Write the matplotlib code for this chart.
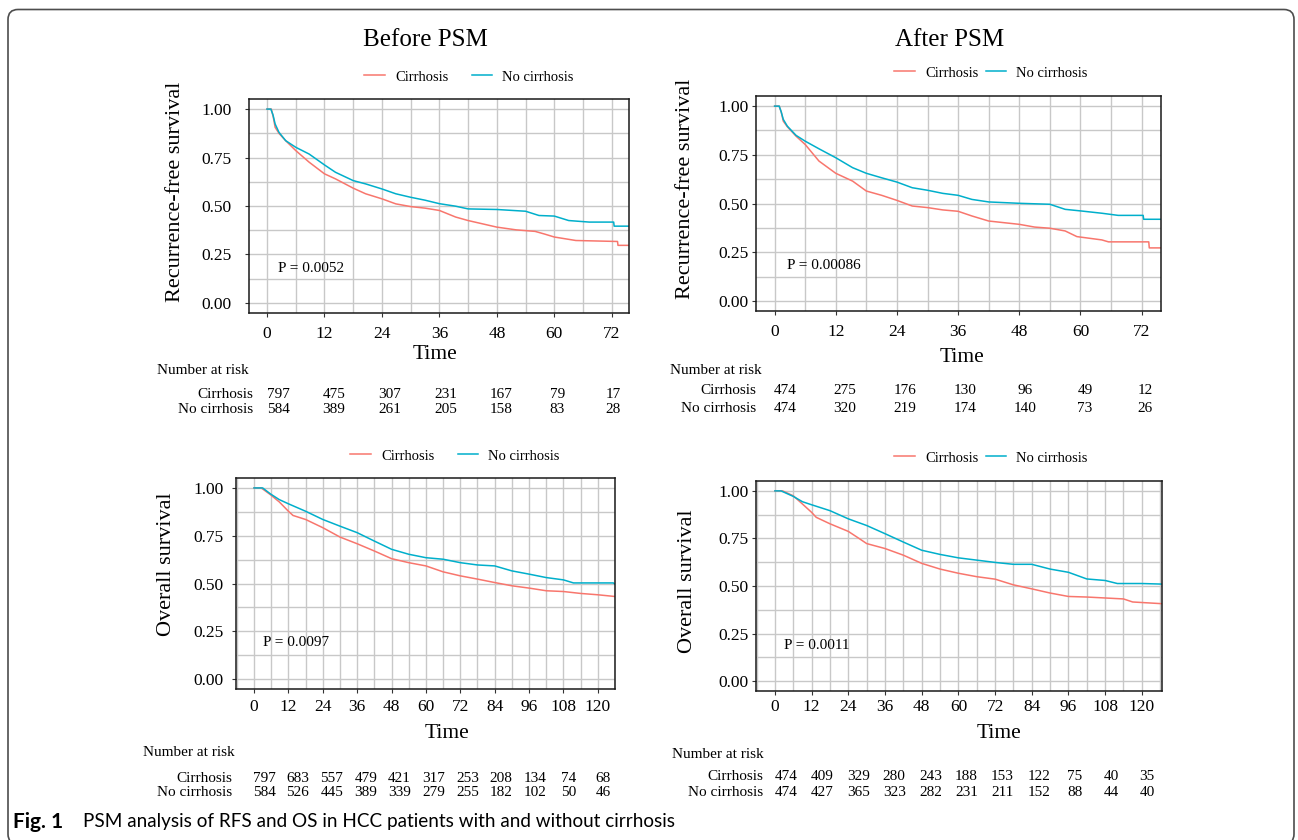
import matplotlib
matplotlib.use("Agg")
import matplotlib.pyplot as plt  # noqa: E402
from matplotlib.patches import FancyBboxPatch  # noqa: E402
from matplotlib.transforms import IdentityTransform  # noqa: E402
from matplotlib.ticker import MultipleLocator  # noqa: E402

W, H = 1298, 840
RED = "#F8766D"
BLUE = "#00AFCB"
GRID = "#c8c8c8"
GROUPS = ["Cirrhosis", "No cirrhosis"]

# --- Kaplan-Meier curves (months, survival) ---
# RFS before PSM
rfs_pre_t_cir = [0, 0.9, 1.3, 1.7, 2.5, 3.9, 6, 8.8, 12, 14.3, 18, 20.6, 24, 26.9, 30, 33, 36,
                 39.4, 42, 45, 48, 52, 56, 58, 60, 64.5, 73.2, 73.3, 75.6]
rfs_pre_s_cir = [1, 1, 0.96, 0.906, 0.875, 0.837, 0.786, 0.726, 0.666, 0.640, 0.592, 0.563, 0.537,
                 0.511, 0.497, 0.489, 0.477, 0.443, 0.425, 0.408, 0.391, 0.377, 0.369, 0.355, 0.340,
                 0.322, 0.317, 0.297, 0.297]
rfs_pre_t_no = [0, 0.8, 1.25, 1.7, 2.5, 3.9, 6, 8.8, 12, 14.3, 18, 20.6, 24, 26.9, 30, 33, 36,
                39.4, 42, 48, 54, 56.8, 60, 63, 67.3, 72.4, 72.5, 75.6]
rfs_pre_s_no = [1, 1, 0.97, 0.923, 0.88, 0.837, 0.803, 0.768, 0.712, 0.674, 0.631, 0.614, 0.588,
                0.563, 0.545, 0.530, 0.512, 0.499, 0.485, 0.482, 0.473, 0.451, 0.448, 0.425, 0.417,
                0.417, 0.396, 0.396]
# RFS after PSM
rfs_post_t_cir = [0, 0.9, 1.3, 1.7, 2.5, 4.2, 6, 8.7, 12, 15.3, 18, 21, 24, 27, 30, 33, 36, 38.7,
                  42, 48, 51, 54, 57, 59.3, 64.2, 65.5, 73.4, 73.5, 75.8]
rfs_post_s_cir = [1, 1, 0.97, 0.923, 0.894, 0.846, 0.803, 0.718, 0.655, 0.615, 0.564, 0.542, 0.516,
                  0.487, 0.479, 0.467, 0.460, 0.436, 0.410, 0.393, 0.379, 0.373, 0.359, 0.330, 0.313,
                  0.303, 0.303, 0.272, 0.272]
rfs_post_t_no = [0, 0.9, 1.3, 1.7, 2.5, 4.2, 6, 8.7, 12, 15.3, 18, 21, 24, 27, 30, 33, 36, 38.7,
                 42, 48, 54, 57, 60, 64.2, 67.4, 72.3, 72.4, 75.8]
rfs_post_s_no = [1, 1, 0.97, 0.932, 0.897, 0.85, 0.82, 0.781, 0.735, 0.684, 0.655, 0.632, 0.610,
                 0.581, 0.568, 0.552, 0.542, 0.521, 0.508, 0.501, 0.496, 0.470, 0.462, 0.45, 0.439,
                 0.439, 0.419, 0.419]
# OS before PSM
os_pre_t_cir = [0, 2.5, 5.7, 8.8, 12, 13.6, 18, 24, 30, 36, 42, 48, 54, 60, 66, 72, 78, 84, 90,
                96, 102, 108, 114, 120, 126]
os_pre_s_cir = [1, 1, 0.965, 0.927, 0.878, 0.856, 0.835, 0.792, 0.743, 0.708, 0.670, 0.630, 0.609,
                0.592, 0.561, 0.540, 0.523, 0.505, 0.488, 0.476, 0.462, 0.458, 0.448, 0.441, 0.432]
os_pre_t_no = [0, 3, 5.7, 8.8, 12, 18, 24, 30, 36, 42, 48, 54, 60, 66, 72, 78, 84, 90, 96, 102,
               108, 111.5, 125.4, 126]
os_pre_s_no = [1, 1, 0.969, 0.939, 0.917, 0.878, 0.835, 0.80, 0.766, 0.722, 0.679, 0.653, 0.635,
               0.627, 0.609, 0.597, 0.592, 0.566, 0.549, 0.531, 0.519, 0.503, 0.503, 0.497]
# OS after PSM
os_post_t_cir = [0, 2.5, 6, 9, 12, 13.5, 18, 24, 27.6, 30, 36, 42, 48, 54, 60, 66, 72, 78, 84,
                 90, 96, 102, 108, 114, 117, 126.6]
os_post_s_cir = [1, 1, 0.974, 0.931, 0.887, 0.861, 0.827, 0.787, 0.749, 0.723, 0.697, 0.662,
                 0.619, 0.589, 0.567, 0.549, 0.536, 0.506, 0.485, 0.463, 0.445, 0.442, 0.437,
                 0.432, 0.416, 0.407]
os_post_t_no = [0, 2, 6, 9, 12, 18, 24, 30, 36, 42, 48, 54, 60, 66, 72, 78, 84, 90, 96, 102, 108,
                112, 120, 126.6]
os_post_s_no = [1, 1, 0.971, 0.943, 0.927, 0.896, 0.853, 0.818, 0.775, 0.731, 0.688, 0.666, 0.648,
                0.636, 0.624, 0.614, 0.614, 0.589, 0.572, 0.537, 0.529, 0.513, 0.513, 0.51]

# --- numbers at risk ---
RFS_TIMES = [0, 12, 24, 36, 48, 60, 72]
OS_TIMES = [0, 12, 24, 36, 48, 60, 72, 84, 96, 108, 120]
risk_rfs_pre_cir = [797, 475, 307, 231, 167, 79, 17]
risk_rfs_pre_no = [584, 389, 261, 205, 158, 83, 28]
risk_rfs_post_cir = [474, 275, 176, 130, 96, 49, 12]
risk_rfs_post_no = [474, 320, 219, 174, 140, 73, 26]
risk_os_pre_cir = [797, 683, 557, 479, 421, 317, 253, 208, 134, 74, 68]
risk_os_pre_no = [584, 526, 445, 389, 339, 279, 255, 182, 102, 50, 46]
risk_os_post_cir = [474, 409, 329, 280, 243, 188, 153, 122, 75, 40, 35]
risk_os_post_no = [474, 427, 365, 323, 282, 231, 211, 152, 88, 44, 40]

P_VALUES = ["P = 0.0052", "P = 0.00086", "P = 0.0097", "P = 0.0011"]
TITLES = ["Before PSM", "After PSM"]
YLABELS = ["Recurrence-free survival", "Overall survival"]

plt.rcParams["font.family"] = ["Liberation Serif", "DejaVu Serif"]


def fx(x):
    return x / W


def fy(y):
    return 1 - y / H


def rect(l, t, r, b):
    return [l / W, 1 - b / H, (r - l) / W, (b - t) / H]


# layout in pixels, one entry per panel
PANELS = [
    dict(box=(249, 99, 629, 313), xlim=(-3.76, 75.6), tmax=72, leg=(469, 77), cs=1.6,
         ylab=(175, 192), time=(435, 354), ypad=9.4, xpad=6, pv=(2.4, 0.18),
         nar=(157, 371), lab_r=253, rows=(394, 409), tx=(278, 613)),
    dict(box=(756, 96, 1161, 311), xlim=(-3.65, 75.8), tmax=72, leg=(991, 73), cs=0.5,
         ylab=(685, 189), time=(962, 357), ypad=2.5, xpad=6, pv=(2.5, 0.18),
         nar=(670, 371), lab_r=756, rows=(391, 408), tx=(785, 1145)),
    dict(box=(236, 478, 615, 689), xlim=(-6.3, 126), tmax=120, leg=(455, 456), cs=1.6,
         ylab=(166, 564), time=(447, 734), ypad=6, xpad=4, pv=(3.0, 0.19),
         nar=(143, 753), lab_r=232, rows=(778, 792), tx=(264, 603)),
    dict(box=(756, 481, 1162, 691), xlim=(-6.2, 126.6), tmax=120, leg=(991, 458), cs=0.5,
         ylab=(688, 581), time=(999, 733), ypad=2.5, xpad=3, pv=(3.0, 0.185),
         nar=(672, 754), lab_r=763, rows=(777, 792), tx=(786, 1147)),
]

CURVES = [
    ((rfs_pre_t_cir, rfs_pre_s_cir), (rfs_pre_t_no, rfs_pre_s_no)),
    ((rfs_post_t_cir, rfs_post_s_cir), (rfs_post_t_no, rfs_post_s_no)),
    ((os_pre_t_cir, os_pre_s_cir), (os_pre_t_no, os_pre_s_no)),
    ((os_post_t_cir, os_post_s_cir), (os_post_t_no, os_post_s_no)),
]
RISKS = [
    (RFS_TIMES, risk_rfs_pre_cir, risk_rfs_pre_no),
    (RFS_TIMES, risk_rfs_post_cir, risk_rfs_post_no),
    (OS_TIMES, risk_os_pre_cir, risk_os_pre_no),
    (OS_TIMES, risk_os_post_cir, risk_os_post_no),
]


def draw_panel(fig, i):
    sp = PANELS[i]
    ax = fig.add_axes(rect(*sp["box"]))
    (tc, sc), (tn, sn) = CURVES[i]
    l1, = ax.plot(tc, sc, color=RED, lw=1.1)
    l2, = ax.plot(tn, sn, color=BLUE, lw=1.1)
    ax.set_xlim(*sp["xlim"])
    ax.set_ylim(-0.052, 1.052)
    ax.xaxis.set_major_locator(MultipleLocator(12))
    ax.xaxis.set_minor_locator(MultipleLocator(6))
    ax.yaxis.set_minor_locator(MultipleLocator(0.125))
    ax.set_yticks([0, 0.25, 0.5, 0.75, 1.0])
    ax.set_yticklabels(["0.00", "0.25", "0.50", "0.75", "1.00"])
    ax.grid(which="both", color=GRID, lw=1.0)
    ax.set_axisbelow(True)
    ax.tick_params(which="major", length=3, width=0.8, color="#333333", labelsize=12.5,
                   labelcolor="black")
    ax.tick_params(which="minor", length=0)
    ax.tick_params(axis="y", pad=sp["ypad"])
    ax.tick_params(axis="x", pad=sp["xpad"])
    for s in ax.spines.values():
        s.set_linewidth(1.1)
        s.set_color("#1a1a1a")
    ax.text(sp["pv"][0], sp["pv"][1], P_VALUES[i], fontsize=11, ha="left", va="center")
    ax.legend([l1, l2], GROUPS, loc="center", bbox_to_anchor=(fx(sp["leg"][0]), fy(sp["leg"][1])),
              bbox_transform=fig.transFigure, ncol=2, frameon=False, fontsize=10.5,
              handlelength=1.4, handletextpad=0.7, columnspacing=sp["cs"],
              borderpad=0, borderaxespad=0)

    fig.text(fx(sp["ylab"][0]), fy(sp["ylab"][1]), YLABELS[i // 2], rotation=90,
             ha="center", va="center", fontsize=16)
    fig.text(fx(sp["time"][0]), fy(sp["time"][1]), "Time", ha="center", va="center",
             fontsize=15.5)

    # risk table
    times, r_cir, r_no = RISKS[i]
    fig.text(fx(sp["nar"][0]), fy(sp["nar"][1]), "Number at risk", ha="left", va="center",
             fontsize=11)
    for name, row_y in zip(GROUPS, sp["rows"]):
        fig.text(fx(sp["lab_r"]), fy(row_y), name, ha="right", va="center", fontsize=11)
    x0, x1 = sp["tx"]
    r1, r2 = sp["rows"]
    tab = fig.add_axes(rect(x0, r1, x1, r2))
    tab.set_xlim(0, sp["tmax"])
    tab.set_ylim(0, 1)
    tab.axis("off")
    for t, a, b in zip(times, r_cir, r_no):
        tab.text(t, 1, str(a), ha="center", va="center", fontsize=11)
        tab.text(t, 0, str(b), ha="center", va="center", fontsize=11)


def main():
    fig = plt.figure(figsize=(W / 100, H / 100), dpi=100)
    border = FancyBboxPatch((8, -4), 1286, 834.5, boxstyle="round,pad=0,rounding_size=10",
                           transform=IdentityTransform(), fill=False, ec="#4d4d4d", lw=1.2)
    fig.add_artist(border)

    fig.text(fx(425), fy(40), TITLES[0], ha="center", va="center", fontsize=18)
    fig.text(fx(950), fy(40), TITLES[1], ha="center", va="center", fontsize=18)
    for i in range(4):
        draw_panel(fig, i)

    cap_font = ["Lato", "DejaVu Sans"]
    fig.text(fx(13), fy(822), "Fig. 1", family=cap_font, fontweight="bold",
             fontsize=15, ha="left", va="center")
    fig.text(fx(83), fy(822),
             "PSM analysis of RFS and OS in HCC patients with and without cirrhosis",
             family=cap_font, fontsize=13.6, ha="left", va="center")
    fig.savefig("out.png", dpi=100)


if __name__ == "__main__":
    main()
